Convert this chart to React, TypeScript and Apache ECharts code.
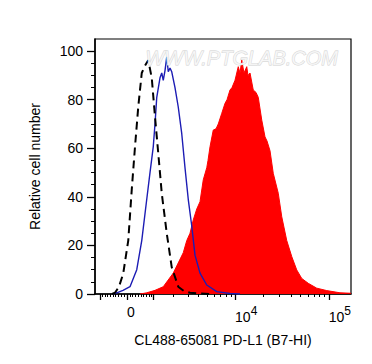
import React, { useEffect, useRef } from "react";
import * as echarts from "echarts";

// x values are display channels (0..1024) on a biexponential scale
const isotypeX = [68, 80, 96, 113, 133, 147, 160, 173, 187, 200, 213, 227, 240, 253, 267, 287, 307, 333, 356, 380, 420, 460];
const isotypeY = [0, 0.5, 3, 8.5, 22, 43, 60.6, 77, 91, 94, 96.3, 89, 73, 58, 41.5, 25, 11, 3, 1.2, 0.5, 0.2, 0];

const unstainedX = [72, 87, 112, 140, 167, 187, 207, 220, 233, 240, 247, 260, 267, 273, 280, 287, 293, 300, 307, 320, 333, 347, 360, 373, 387, 400, 420, 447, 487, 540, 580];
const unstainedY = [0, 0.5, 1.5, 3, 10, 22, 39, 50, 60.6, 70, 81, 89, 91, 88, 92, 97.7, 91.5, 93, 91.5, 85, 77, 66, 52, 39, 28, 16, 8.6, 3.7, 1, 0.2, 0];

const stainedX = [180, 207, 240, 273, 313, 353, 367, 380, 393, 407, 420, 433, 447, 452, 460, 473, 484, 493, 507, 520, 528, 540, 548, 560, 573, 580, 587, 596, 607, 612, 620, 633, 644, 653, 667, 680, 688, 700, 713, 733, 747, 767, 787, 807, 827, 853, 887, 927, 980, 1024];
const stainedY = [0, 0.5, 1.5, 3, 8.6, 17, 22, 25, 30.5, 35, 38, 47, 52, 55, 60.6, 67.5, 68, 70, 74.4, 78.5, 80, 84, 85, 88, 93.6, 91, 96.3, 91, 93.6, 90, 91, 84, 83, 81, 71.6, 64.7, 63, 59, 49.7, 41.5, 31.8, 22, 15.4, 9.9, 6.4, 4.4, 2.4, 1.4, 0.5, 0.3];

const majorTickValues = [-1000, 0, 1000, 10000, 100000];
const minorTickValues = [
  -900, -800, -700, -600, -500, -400, -300, -200, -100,
  100, 200, 300, 400, 500, 600, 700, 800, 900,
  2000, 3000, 4000, 5000, 6000, 7000, 8000, 9000,
  20000, 30000, 40000, 50000, 60000, 70000, 80000, 90000,
];
const xLabelValues = [0, 10000, 100000];
const xLabelTexts = ["0", "10{sup|4}", "10{sup|5}"];
const yLabelValues = [0, 20, 40, 60, 80, 100];
const yMinorValues = [5, 10, 15, 25, 30, 35, 45, 50, 55, 65, 70, 75, 85, 90, 95];

const xTitle = "CL488-65081 PD-L1 (B7-HI)";
const yTitle = "Relative cell number";
const watermark = "WWW.PTGLAB.COM";

// biexponential display transform (fluorescence value -> channel)
const toChannel = (v: number) => 128 + 163.2 * Math.asinh(v / 1422);

const zip = (xs: number[], ys: number[]) => xs.map((x, i) => [x, ys[i]]);

export default function App() {
  const ref = useRef<HTMLDivElement>(null);
  useEffect(() => {
    if (!ref.current) return;
    const chart = echarts.init(ref.current, null, { renderer: "svg" });
    const font = "Liberation Sans";
    const labelChannels = xLabelValues.map(toChannel);
    const option: any = {
      animation: false,
      backgroundColor: "#fff",
      grid: {
        left: 95,
        top: 39,
        right: 21,
        bottom: 70,
        show: true,
        borderColor: "#000",
        borderWidth: 1.2,
        backgroundColor: "transparent",
      },
      xAxis: [
        {
          type: "value",
          position: "bottom",
          min: 0,
          max: 1024,
          name: xTitle,
          nameLocation: "middle",
          nameGap: 39,
          nameTextStyle: { fontFamily: font, fontSize: 14, color: "#000" },
          axisLine: { onZero: false, lineStyle: { color: "#000", width: 1.5 } },
          axisTick: {
            show: true,
            customValues: majorTickValues.map(toChannel),
            length: 6,
            lineStyle: { color: "#000", width: 1.3 },
          },
          axisLabel: {
            customValues: labelChannels,
            margin: 11,
            color: "#000",
            fontFamily: font,
            fontSize: 14,
            align: "left",
            formatter: (v: number) => {
              let best = 0;
              labelChannels.forEach((c, i) => {
                if (Math.abs(c - v) < Math.abs(labelChannels[best] - v)) best = i;
              });
              return xLabelTexts[best];
            },
            rich: {
              sup: { fontFamily: font, fontSize: 12, color: "#000", verticalAlign: "bottom", padding: [0, 0, 12, 0] },
            },
          },
          splitLine: { show: false },
        },
        {
          type: "value",
          position: "bottom",
          min: 0,
          max: 1024,
          axisLine: { show: false, onZero: false },
          axisTick: {
            show: true,
            customValues: minorTickValues.map(toChannel),
            length: 3,
            lineStyle: { color: "#000", width: 1 },
          },
          axisLabel: { show: false },
          splitLine: { show: false },
        },
      ],
      yAxis: [
        {
          type: "value",
          min: 0,
          max: 105,
          name: yTitle,
          nameLocation: "middle",
          nameGap: 53,
          nameTextStyle: { fontFamily: font, fontSize: 14, color: "#000" },
          axisLine: { onZero: false, lineStyle: { color: "#000", width: 1.5 } },
          axisTick: {
            show: true,
            customValues: yLabelValues,
            length: 8,
            lineStyle: { color: "#000", width: 1.3 },
          },
          axisLabel: {
            customValues: yLabelValues,
            margin: 12,
            color: "#000",
            fontFamily: font,
            fontSize: 14,
          },
          splitLine: { show: false },
        },
        {
          type: "value",
          position: "left",
          min: 0,
          max: 105,
          axisLine: { show: false, onZero: false },
          axisTick: {
            show: true,
            customValues: yMinorValues,
            length: 4,
            lineStyle: { color: "#000", width: 1 },
          },
          axisLabel: { show: false },
          splitLine: { show: false },
        },
      ],
      series: [
        {
          type: "line",
          name: "PD-L1",
          data: zip(stainedX, stainedY),
          showSymbol: false,
          lineStyle: { color: "#ff0000", width: 1 },
          areaStyle: { color: "#ff0000", opacity: 1 },
          z: 1,
        },
        {
          type: "line",
          name: "Isotype",
          data: zip(isotypeX, isotypeY),
          showSymbol: false,
          lineStyle: { color: "#000", width: 2, type: [8, 5] },
          z: 3,
        },
        {
          type: "line",
          name: "Unstained",
          data: zip(unstainedX, unstainedY),
          showSymbol: false,
          lineStyle: { color: "#1c1cb4", width: 1.4 },
          z: 2,
        },
      ],
      graphic: [
        {
          type: "text",
          left: 145,
          top: 48,
          z: 100,
          style: {
            text: watermark,
            fontFamily: font,
            fontSize: 20,
            fontStyle: "italic",
            fill: "rgba(248,248,248,0.85)",
            stroke: "#d0d0d0",
            lineWidth: 0.8,
          },
        },
      ],
    };
    chart.setOption(option);
    return () => chart.dispose();
  }, []);
  return <div ref={ref} style={{ position: "fixed", left: 0, top: 0, width: 372, height: 364 }} />;
}
